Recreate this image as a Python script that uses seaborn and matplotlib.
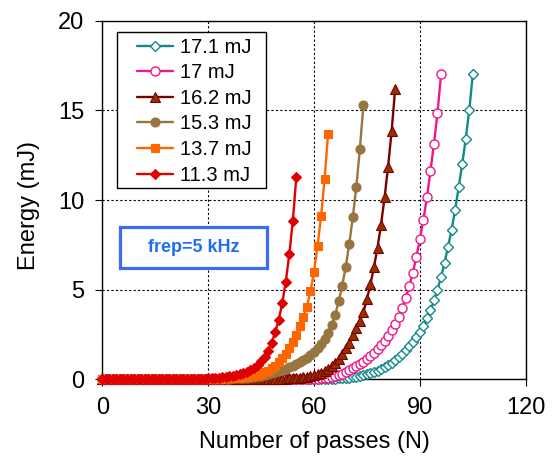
import numpy as np
import matplotlib
matplotlib.use("Agg")
import matplotlib.pyplot as plt
import seaborn as sns
from matplotlib.patches import Rectangle

# ---------------- data (energy in mJ at each pass N = 0, 1, 2, ...) ----------------
labels = ["17.1 mJ", "17 mJ", "16.2 mJ", "15.3 mJ", "13.7 mJ", "11.3 mJ"]

e_171 = [0, 0, 0, 0, 0, 0, 0, 0, 0, 0,
         0, 0, 0, 0, 0, 0, 0, 0, 0, 0,
         0, 0, 0, 0, 0, 0, 0, 0, 0, 0,
         0, 0, 0, 0, 0, 0, 0, 0, 0, 0,
         0, 0, 0, 0, 0, 0, 0, 0, 0, 0,
         0,
         0.001, 0.001, 0.002, 0.002,
         0.003, 0.004, 0.005, 0.006, 0.008,
         0.01, 0.013, 0.017, 0.021, 0.026,
         0.033, 0.041, 0.051, 0.064, 0.08,
         0.1, 0.125, 0.155, 0.19, 0.23,
         0.28, 0.34, 0.41, 0.49, 0.58,
         0.68, 0.8, 0.93, 1.08, 1.25,
         1.43, 1.63, 1.85, 2.1, 2.36,
         2.65, 3.0, 3.4, 3.85, 4.4,
         5.0, 5.7, 6.5, 7.4, 8.35,
         9.45, 10.7, 12.0, 13.4, 15.0,
         17.0]

e_17 = [0, 0, 0, 0, 0, 0, 0, 0, 0, 0,
        0, 0, 0, 0, 0, 0, 0, 0, 0, 0,
        0, 0, 0, 0, 0, 0, 0, 0, 0, 0,
        0, 0, 0, 0, 0, 0, 0, 0, 0, 0,
        0, 0, 0, 0, 0, 0, 0, 0,
        0.001, 0.001,
        0.002, 0.002, 0.003, 0.004, 0.006,
        0.008, 0.01, 0.013, 0.017, 0.023,
        0.03, 0.04, 0.052, 0.068, 0.09,
        0.12, 0.16, 0.22, 0.3, 0.4,
        0.52, 0.63, 0.73, 0.85, 0.98,
        1.13, 1.3, 1.48, 1.68, 1.9,
        2.15, 2.42, 2.73, 3.08, 3.5,
        3.98, 4.55, 5.2, 5.95, 6.8,
        7.8, 8.9, 10.15, 11.6, 13.15,
        14.85, 17.0]

e_162 = [0, 0, 0, 0, 0, 0, 0, 0, 0, 0,
         0, 0, 0, 0, 0, 0, 0, 0, 0, 0,
         0, 0, 0, 0, 0, 0, 0, 0, 0, 0,
         0, 0, 0, 0, 0, 0, 0,
         0.001, 0.001, 0.002,
         0.002, 0.003, 0.004, 0.005, 0.006,
         0.008, 0.01, 0.012, 0.015, 0.019,
         0.024, 0.03, 0.038, 0.048, 0.06,
         0.074, 0.092, 0.115, 0.145, 0.18,
         0.23, 0.29, 0.36, 0.46, 0.58,
         0.74, 0.92, 1.15, 1.42, 1.72,
         2.05, 2.45, 2.85, 3.25, 3.74,
         4.48, 5.31, 6.27, 7.34, 8.63,
         10.14, 11.86, 13.83, 16.2]

e_153 = [0, 0, 0, 0, 0, 0, 0, 0, 0, 0,
         0, 0, 0, 0, 0, 0, 0, 0, 0, 0,
         0.001, 0.001, 0.002, 0.002, 0.003,
         0.004, 0.005, 0.006, 0.008, 0.01,
         0.012, 0.015, 0.018, 0.022, 0.027,
         0.033, 0.04, 0.048, 0.058, 0.07,
         0.085, 0.1, 0.12, 0.14, 0.17,
         0.2, 0.24, 0.28, 0.33, 0.39,
         0.45, 0.51, 0.59, 0.67, 0.76,
         0.86, 0.96, 1.07, 1.2, 1.35,
         1.52, 1.73, 1.97, 2.25, 2.6,
         3.05, 3.6, 4.35, 5.22, 6.29,
         7.56, 9.04, 10.75, 12.84, 15.3]

e_137 = [0, 0, 0, 0, 0, 0, 0, 0, 0, 0,
         0, 0, 0, 0, 0,
         0.001, 0.001, 0.002, 0.002, 0.003,
         0.003, 0.004, 0.005, 0.006, 0.007,
         0.008, 0.01, 0.012, 0.014, 0.017,
         0.02, 0.024, 0.028, 0.033, 0.039,
         0.046, 0.055, 0.065, 0.078, 0.093,
         0.11, 0.135, 0.165, 0.2, 0.25,
         0.31, 0.39, 0.49, 0.61, 0.76,
         0.95, 1.17, 1.42, 1.72, 2.07,
         2.48, 2.95, 3.5, 4.05, 4.9,
         6.0, 7.43, 9.09, 11.18, 13.7]

e_113 = [0, 0, 0, 0, 0, 0, 0, 0, 0, 0,
         0, 0, 0, 0, 0,
         0.002, 0.003, 0.004, 0.005, 0.006,
         0.008, 0.01, 0.012, 0.015, 0.018,
         0.021, 0.025, 0.03, 0.036, 0.043,
         0.052, 0.062, 0.075, 0.09, 0.11,
         0.13, 0.16, 0.19, 0.23, 0.28,
         0.34, 0.42, 0.52, 0.64, 0.8,
         1.0, 1.27, 1.6, 2.05, 2.62,
         3.32, 4.24, 5.44, 6.97, 8.85,
         11.3]

series = [e_171, e_17, e_162, e_153, e_137, e_113]

x_ticks = [0, 30, 60, 90, 120]
y_ticks = [0, 5, 10, 15, 20]
x_label = "Number of passes (N)"
y_label = "Energy (mJ)"
note = "frep=5 kHz"

# ---------------- styling ----------------
styles = [
    dict(color="#13898a", marker="D", markersize=4.6, markerfacecolor="white",
         markeredgecolor="#13898a", markeredgewidth=1.0),
    dict(color="#f0168c", marker="o", markersize=6.5, markerfacecolor="white",
         markeredgecolor="#f0168c", markeredgewidth=1.0),
    dict(color="#7a0000", marker="^", markersize=7.2, markerfacecolor="#963000",
         markeredgecolor="#7a0000", markeredgewidth=0.8),
    dict(color="#967540", marker="o", markersize=6.5, markerfacecolor="#967540",
         markeredgecolor="#967540", markeredgewidth=0.8),
    dict(color="#ff6600", marker="s", markersize=6.2, markerfacecolor="#ff6600",
         markeredgecolor="#ff6600", markeredgewidth=0.8),
    dict(color="#e00000", marker="D", markersize=5.0, markerfacecolor="#e00000",
         markeredgecolor="#e00000", markeredgewidth=0.8),
]

sns.set_style("ticks")
plt.rcParams["font.family"] = ["Liberation Sans", "DejaVu Sans"]
plt.rcParams["text.color"] = "black"
plt.rcParams["axes.labelcolor"] = "black"
plt.rcParams["xtick.color"] = "black"
plt.rcParams["ytick.color"] = "black"

fig = plt.figure(figsize=(5.56, 4.58), dpi=100)
ax = fig.add_axes([0.1840, 0.1718, 0.7615, 0.7830])

for i, (vals, lab, st) in enumerate(zip(series, labels, styles)):
    n = np.arange(len(vals))
    sns.lineplot(x=n, y=vals, ax=ax, label=lab, linewidth=1.7, clip_on=False,
                 zorder=3 + 0.1 * i, errorbar=None, sort=False, **st)

ax.set_xlim(0, 120)
ax.set_ylim(0, 20)
ax.set_xticks(x_ticks)
ax.set_yticks(y_ticks)
ax.grid(True, color="black", linestyle=(0, (2, 2)), linewidth=0.8)
ax.set_axisbelow(True)
for sp in ax.spines.values():
    sp.set_visible(True)
    sp.set_color("black")
    sp.set_linewidth(1.0)
ax.tick_params(direction="out", length=5, width=0.8, labelsize=17, pad=8,
               top=False, right=False, colors="black", labelcolor="black")

ax.set_xlabel(x_label, fontsize=17, color="black")
ax.set_ylabel(y_label, fontsize=17, color="black")
ax.xaxis.set_label_coords(0.5, -0.143)
ax.yaxis.set_label_coords(-0.147, 0.484)

# legend with a hand-placed frame
frame = Rectangle((0.034, 0.5326), 0.3526, 0.435, transform=ax.transAxes,
                  facecolor="white", edgecolor="black", linewidth=1.0, zorder=4)
ax.add_patch(frame)
leg = ax.legend(loc="upper left", bbox_to_anchor=(0.0812, 0.953), frameon=False,
                fontsize=14.5, handlelength=1.82, handletextpad=0.33,
                labelspacing=0.33, borderpad=0, borderaxespad=0)
for t in leg.get_texts():
    t.set_color("black")
leg.set_zorder(5)

# annotation box
box = Rectangle((0.0418, 0.3104), 0.3472, 0.1143, transform=ax.transAxes,
                facecolor="white", edgecolor="#3b6cf6", linewidth=2.3, zorder=4)
ax.add_patch(box)
ax.text(0.2154, 0.3675, note, transform=ax.transAxes, ha="center", va="center",
        fontsize=13, fontweight="bold", color="#1f6cf5", zorder=5)

fig.savefig("out.png", dpi=100)
